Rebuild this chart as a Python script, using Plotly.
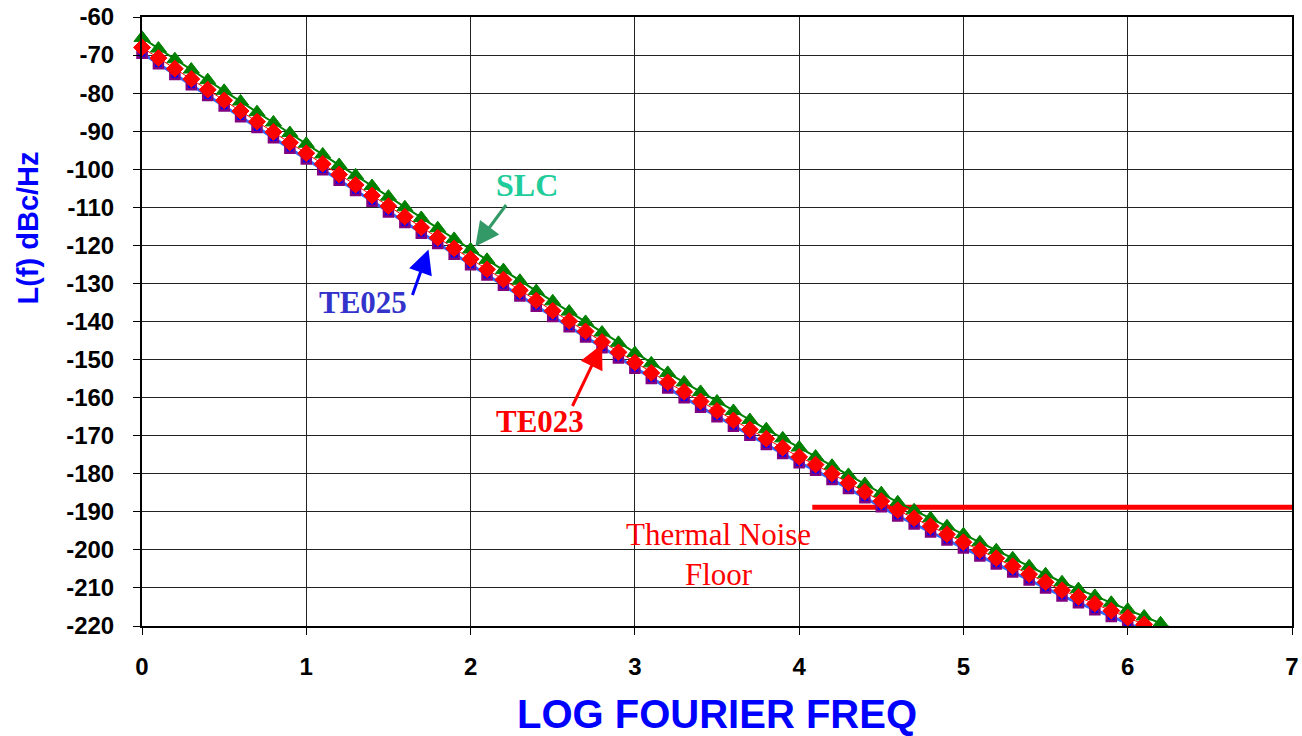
import plotly.graph_objects as go

# ---------------- data ----------------
log_freq = [0.0, 0.1, 0.2, 0.3, 0.4, 0.5, 0.6, 0.7, 0.8, 0.9,
            1.0, 1.1, 1.2, 1.3, 1.4, 1.5, 1.6, 1.7, 1.8, 1.9,
            2.0, 2.1, 2.2, 2.3, 2.4, 2.5, 2.6, 2.7, 2.8, 2.9,
            3.0, 3.1, 3.2, 3.3, 3.4, 3.5, 3.6, 3.7, 3.8, 3.9,
            4.0, 4.1, 4.2, 4.3, 4.4, 4.5, 4.6, 4.7, 4.8, 4.9,
            5.0, 5.1, 5.2, 5.3, 5.4, 5.5, 5.6, 5.7, 5.8, 5.9,
            6.0, 6.1, 6.2, 6.3]

slc = [-65.5, -68.3, -71.1, -73.8, -76.6, -79.4, -82.2, -85.0, -87.7, -90.5,
       -93.3, -96.1, -98.9, -101.6, -104.4, -107.2, -110.0, -112.8, -115.5, -118.3,
       -121.1, -123.8, -126.5, -129.3, -132.0, -134.7, -137.4, -140.1, -142.9, -145.6,
       -148.3, -151.0, -153.5, -156.0, -158.5, -161.0, -163.5, -165.9, -168.3, -170.7,
       -173.1, -175.5, -177.9, -180.3, -182.7, -185.1, -187.5, -189.6, -191.7, -193.8,
       -195.9, -198.0, -200.1, -202.2, -204.3, -206.4, -208.5, -210.3, -212.1, -213.9,
       -215.7, -217.5, -219.3, -221.1]

te025 = [-69.5, -72.3, -75.1, -77.8, -80.6, -83.4, -86.2, -89.0, -91.7, -94.5,
         -97.3, -100.1, -102.9, -105.6, -108.4, -111.2, -114.0, -116.8, -119.5, -122.3,
         -125.1, -127.8, -130.5, -133.3, -136.0, -138.7, -141.4, -144.1, -146.9, -149.6,
         -152.3, -155.0, -157.5, -160.0, -162.5, -165.0, -167.5, -169.9, -172.3, -174.7,
         -177.1, -179.1, -181.5, -183.9, -186.3, -188.7, -191.1, -193.2, -195.3, -197.4,
         -199.5, -201.6, -203.7, -205.8, -207.9, -210.0, -212.1, -213.9, -215.7, -217.5,
         -219.3, -221.1]

te023 = [-68.0, -70.8, -73.6, -76.3, -79.1, -81.9, -84.7, -87.5, -90.2, -93.0,
         -95.8, -98.6, -101.4, -104.1, -106.9, -109.7, -112.5, -115.3, -118.0, -120.8,
         -123.6, -126.3, -129.0, -131.8, -134.5, -137.2, -139.9, -142.6, -145.4, -148.1,
         -150.8, -153.5, -156.0, -158.5, -161.0, -163.5, -166.0, -168.4, -170.8, -173.2,
         -175.6, -177.6, -180.0, -182.4, -184.8, -187.2, -189.6, -191.7, -193.8, -195.9,
         -198.0, -200.1, -202.2, -204.3, -206.4, -208.5, -210.6, -212.4, -214.2, -216.0,
         -217.8, -219.6, -221.4]

floor_x = [4.08, 7.0]
floor_y = [-188.8, -188.8]

x_ticks = [0, 1, 2, 3, 4, 5, 6, 7]
y_ticks = [-60, -70, -80, -90, -100, -110, -120, -130, -140, -150,
           -160, -170, -180, -190, -200, -210, -220]
y_ticktext = ["-60", "-70", "-80", "-90", "-100", "-110", "-120", "-130", "-140",
              "-150", "-160", "-170", "-180", "-190", "-200", "-210", "-220"]

SERIF = "Times New Roman, Liberation Serif, serif"
SANS = "Arial, Liberation Sans, sans-serif"

fig = go.Figure()

# thermal noise floor
fig.add_trace(go.Scatter(x=floor_x, y=floor_y, mode="lines",
                         line=dict(color="#ff0000", width=5), hoverinfo="skip"))

tri = dict(symbol="triangle-up", size=14, color="#008000", line=dict(color="#008000", width=1))
sq = dict(symbol="square", size=9, color="#0000ff", line=dict(color="#800080", width=2.5))
dia = dict(symbol="diamond", size=13, color="#ff0000", line=dict(color="#ff0000", width=1))

fig.add_trace(go.Scatter(x=log_freq[:len(slc)], y=slc, mode="lines+markers", name="SLC",
                         line=dict(color="#008000", width=2), marker=tri))
fig.add_trace(go.Scatter(x=log_freq[:len(te025)], y=te025, mode="lines+markers", name="TE025",
                         line=dict(color="#3366ff", width=3), marker=sq))
fig.add_trace(go.Scatter(x=log_freq[:len(te023)], y=te023, mode="lines+markers", name="TE023",
                         line=dict(color="#ff0000", width=1), marker=dia))

# first markers drawn unclipped at the left axis edge
fig.add_trace(go.Scatter(x=log_freq[:1], y=slc[:1], mode="markers", cliponaxis=False, marker=tri))
fig.add_trace(go.Scatter(x=log_freq[:1], y=te025[:1], mode="markers", cliponaxis=False, marker=sq))
fig.add_trace(go.Scatter(x=log_freq[:1], y=te023[:1], mode="markers", cliponaxis=False, marker=dia))

annotations = [
    dict(x=2.342, y=-104.2, text="<b>SLC</b>", showarrow=False,
         font=dict(family=SERIF, size=32, color="#20cc99")),
    dict(x=1.347, y=-135.0, text="<b>TE025</b>", showarrow=False,
         font=dict(family=SERIF, size=31, color="#3333cc")),
    dict(x=2.424, y=-166.4, text="<b>TE023</b>", showarrow=False,
         font=dict(family=SERIF, size=31, color="#ff0000")),
    dict(x=3.508, y=-201.3, text="Thermal Noise<br>Floor", showarrow=False,
         font=dict(family=SERIF, size=31, color="#ff0000")),
    # arrows
    dict(x=2.029, y=-120.3, ax=2.223, ay=-109.0, axref="x", ayref="y", text="",
         showarrow=True, arrowhead=2, arrowsize=1.6, arrowwidth=3, arrowcolor="#339966"),
    dict(x=1.744, y=-121.1, ax=1.643, ay=-133.4, axref="x", ayref="y", text="",
         showarrow=True, arrowhead=2, arrowsize=1.6, arrowwidth=3, arrowcolor="#0000ff"),
    dict(x=2.80, y=-146.0, ax=2.616, ay=-162.6, axref="x", ayref="y", text="",
         showarrow=True, arrowhead=2, arrowsize=1.6, arrowwidth=3, arrowcolor="#ff0000"),
    # axis titles
    dict(x=0, y=0.5, xref="paper", yref="paper", text="L(f) dBc/Hz",
         showarrow=False, textangle=-90, xanchor="center", yanchor="middle",
         xshift=-115, yshift=93,
         font=dict(family=SANS, size=29, color="#0000ff", weight="bold")),
    dict(x=0.5, y=0, xref="paper", yref="paper", text="LOG FOURIER FREQ",
         showarrow=False, xanchor="center", yanchor="middle", yshift=-88,
         font=dict(family=SANS, size=40, color="#0000ff", weight="bold")),
]

fig.update_layout(
    width=1302, height=736,
    margin=dict(l=142, r=10, t=17, b=110),
    paper_bgcolor="white", plot_bgcolor="white",
    showlegend=False,
    annotations=annotations,
    xaxis=dict(range=[0, 7], tickvals=x_ticks, ticks="outside", ticklen=7,
               tickwidth=1, tickcolor="#000000", automargin=False,
               showgrid=True, gridcolor="#222222", gridwidth=1,
               showline=True, linecolor="#000000", linewidth=2, mirror=True,
               zeroline=False, ticklabelstandoff=11,
               tickfont=dict(family=SANS, size=24, color="#000000", weight="bold")),
    yaxis=dict(range=[-220, -60], tickvals=y_ticks, ticktext=y_ticktext,
               ticks="outside", ticklen=7, tickwidth=1, tickcolor="#000000",
               automargin=False,
               showgrid=True, gridcolor="#222222", gridwidth=1,
               showline=True, linecolor="#000000", linewidth=2, mirror=True,
               zeroline=False, ticklabelstandoff=14,
               tickfont=dict(family=SANS, size=24, color="#000000", weight="bold")),
)

fig.write_html("out.html")
